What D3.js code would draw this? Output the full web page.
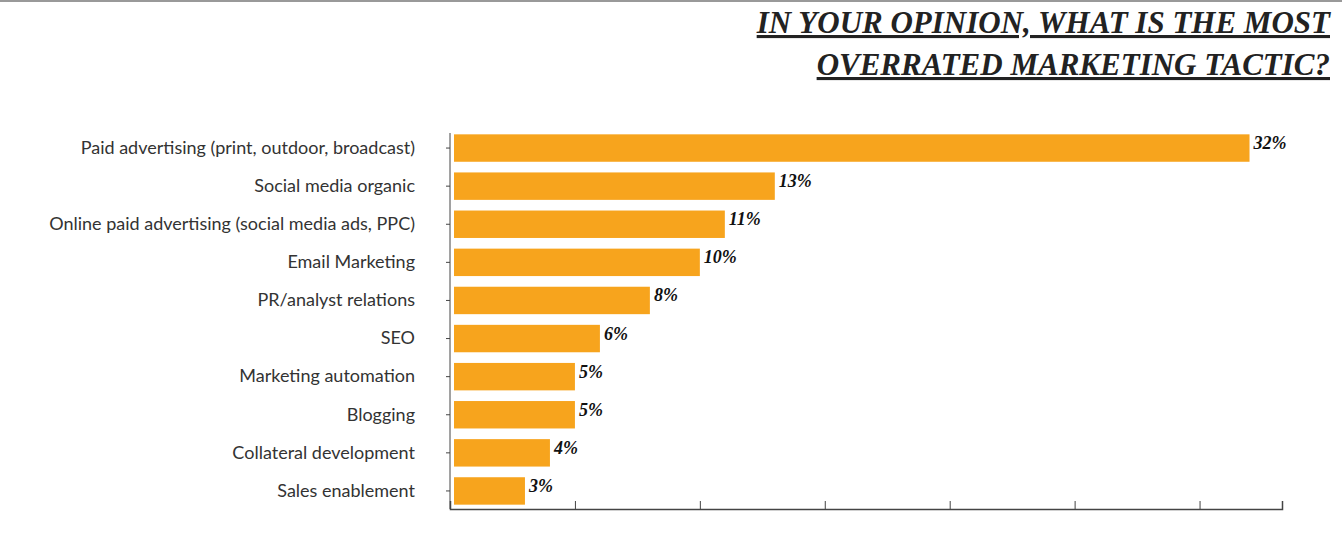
<!DOCTYPE html>
<html><head><meta charset="utf-8">
<script src="https://cdn.jsdelivr.net/npm/d3@7"></script>
<style>body{margin:0;background:#fff}</style>
</head><body>
<svg id="c" width="1342" height="535"></svg>
<script>
const categories = ['Paid advertising (print, outdoor, broadcast)', 'Social media organic',
  'Online paid advertising (social media ads, PPC)', 'Email Marketing', 'PR/analyst relations',
  'SEO', 'Marketing automation', 'Blogging', 'Collateral development', 'Sales enablement'];
const values = [32, 13, 11, 10, 8, 6, 5, 5, 4, 3];
const tickValues = [0, 5, 10, 15, 20, 25, 30];
const titleLines = ['IN YOUR OPINION, WHAT IS THE MOST', 'OVERRATED MARKETING TACTIC?'];

const svg = d3.select('#c');
svg.append('line').attr('x1', 0).attr('x2', 1342).attr('y1', 1).attr('y2', 1)
  .attr('stroke', '#999').attr('stroke-width', 2);

// title
titleLines.forEach((t, i) => {
  svg.append('text').attr('x', 1330).attr('y', 33 + i * 42).attr('text-anchor', 'end')
    .attr('font-family', 'Liberation Serif, serif').attr('font-weight', 'bold').attr('font-style', 'italic')
    .attr('font-size', 31).attr('fill', '#222').attr('text-decoration', 'underline').text(t);
});

const x = d3.scaleLinear().domain([0, 33.3]).range([450, 1282]);
const y = d3.scaleBand().domain(categories).range([129, 510]).paddingInner(0.28).paddingOuter(0.14);

// bars
svg.append('g').selectAll('rect').data(values).join('rect')
  .attr('x', x(0) + 4).attr('y', (d, i) => y(categories[i]))
  .attr('width', d => x(d) - x(0) - 4).attr('height', y.bandwidth())
  .attr('fill', '#f7a41d');

// value labels
svg.append('g').selectAll('text').data(values).join('text')
  .attr('x', d => x(d) + 4).attr('y', (d, i) => y(categories[i]) + y.bandwidth() / 2 + 1)
  .attr('font-family', 'Liberation Serif, serif').attr('font-weight', 'bold').attr('font-style', 'italic')
  .attr('font-size', 18).attr('fill', '#111').text(d => d + '%');

// x axis
const xa = svg.append('g').attr('transform', 'translate(0,509)')
  .call(d3.axisTop(x).tickValues(tickValues).tickSize(8).tickFormat(''));
xa.select('.domain').attr('stroke', '#444').attr('stroke-width', 1.5);
xa.selectAll('.tick line').attr('stroke', '#444');

// y axis
const ya = svg.append('g').attr('transform', 'translate(450,0)')
  .call(d3.axisLeft(y).tickSize(4).tickSizeOuter(0).tickPadding(31));
ya.select('.domain').attr('stroke', '#444').attr('d', 'M0,133V509');
ya.selectAll('.tick line').attr('stroke', '#444');
ya.selectAll('.tick text').attr('font-family', 'Lato, sans-serif').attr('font-size', 18)
  .attr('fill', '#333');
</script>
</body></html>
